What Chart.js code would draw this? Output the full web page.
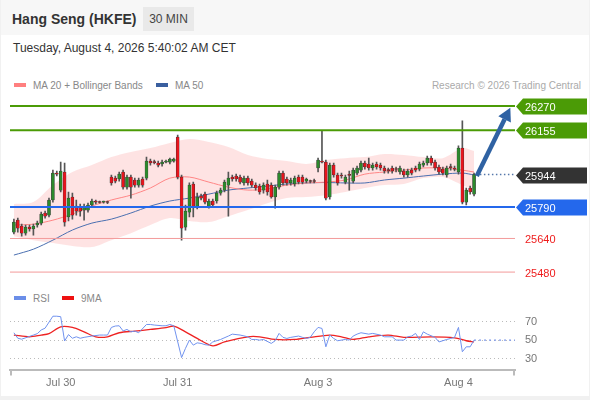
<!DOCTYPE html>
<html>
<head>
<meta charset="utf-8">
<script src="https://cdn.jsdelivr.net/npm/chart.js@4.4.1/dist/chart.umd.min.js"></script>
<style>
  body { margin: 0; width: 590px; height: 400px; overflow: hidden; position: relative;
         background: #f1f1f1; font-family: "Liberation Sans", Arial, sans-serif; }
  #panel { position: absolute; left: 1px; top: 35px; width: 588px; height: 361px; background: #fff; }
  #head { position: absolute; left: 1px; top: 0; width: 588px; height: 35px; background: #f7f7f7; }
  #title { position: absolute; left: 12px; top: 10px; font-size: 14px; font-weight: bold; color: #333; line-height: 18px; }
  #badge { position: absolute; left: 143px; top: 7px; width: 51px; height: 24px; line-height: 24px; text-align: center;
           background: #e9e9e9; color: #444; font-size: 12px; }
  #date { position: absolute; left: 13px; top: 40px; font-size: 12px; color: #333; line-height: 16px; }
  .leg { position: absolute; font-size: 10px; color: #888; line-height: 14px; white-space: nowrap; }
  .sw { display: inline-block; width: 12px; height: 4px; margin-right: 7px; vertical-align: middle; position: relative; top: -1px; }
  #research { position: absolute; right: 9px; top: 79px; font-size: 10px; color: #aaa; line-height: 14px; }
  canvas { position: absolute; left: 0; }
  #price { top: 90px; }
  #rsi { top: 300px; }
</style>
</head>
<body>
<div id="head"></div>
<div id="panel"></div>
<div id="title">Hang Seng (HKFE)</div>
<div id="badge">30 MIN</div>
<div id="date">Tuesday, August 4, 2026 5:40:02 AM CET</div>
<div class="leg" style="left:14px;top:79px"><span class="sw" style="background:#ff7f7f"></span>MA 20 + Bollinger Bands</div>
<div class="leg" style="left:156px;top:79px"><span class="sw" style="background:#3a5f9f"></span>MA 50</div>
<div id="research">Research © 2026 Trading Central</div>
<div class="leg" style="left:14px;top:292px"><span class="sw" style="background:#6b8ee8"></span>RSI</div>
<div class="leg" style="left:62px;top:292px"><span class="sw" style="background:#ee1111"></span>9MA</div>
<canvas id="price" width="590" height="195"></canvas>
<canvas id="rsi" width="590" height="95"></canvas>
<script>
// 30 min candles, Jul 29 night -> Aug 4 morning
const open = [25670,25727,25699,25665,25694,25685,25704,25713,25761,25751,
  25823,25951,25870,25956,25742,25837,25794,25789,25775,25775,
  25799,25818,25813,25813,25813,25932,25927,25923,25956,25884,
  25932,25918,25894,25923,25927,26008,26003,25999,25994,26003,
  26003,26008,26122,25932,25694,25765,25899,25789,25842,25851,
  25789,25818,25818,25856,25870,25894,25932,25937,25932,25904,
  25927,25913,25894,25889,25870,25899,25894,25837,25884,25951,
  25923,25904,25899,25932,25932,25913,25913,25913,25975,26008,
  26003,25837,25989,25942,25942,25908,25942,25913,25951,25965,
  25999,25994,25975,25994,25989,25975,25965,25975,25970,25956,
  25961,25942,25965,25975,25970,25989,25999,26022,26003,25980,
  25970,25942,25980,25975,25956,26070,25813,25880,25851];
const close = [25718,25689,25665,25694,25685,25699,25713,25756,25746,25823,
  25951,25946,25961,25718,25832,25751,25770,25770,25789,25799,
  25818,25813,25811,25815,25811,25904,25913,25946,25884,25932,
  25884,25894,25918,25894,26008,25999,26001,25989,26003,26008,
  26018,26018,25932,25689,25770,25894,25789,25837,25832,25813,
  25818,25799,25856,25870,25908,25927,25923,25923,25908,25927,
  25904,25894,25880,25861,25894,25861,25837,25884,25951,25904,
  25904,25918,25927,25908,25908,25923,25911,25911,26013,26003,
  25832,25989,25942,25904,25937,25932,25940,25965,25975,25999,
  25980,25975,25989,25980,25975,25961,25963,25961,25968,25975,
  25942,25961,25951,25965,25994,25999,26022,25999,25975,25956,
  25951,25975,25977,25970,26070,25813,25870,25861,25944];
const high = [25732,25737,25708,25704,25704,25708,25723,25765,25770,25832,
  25965,25961,26003,25999,25861,25856,25823,25804,25804,25808,
  25827,25823,25818,25818,25818,25942,25937,25956,25965,25942,
  25942,25927,25927,25932,26027,26018,26013,26008,26013,26013,
  26022,26022,26132,25942,25799,25904,25908,25856,25851,25861,
  25827,25827,25865,25880,25918,25956,25942,25946,25942,25937,
  25937,25923,25904,25899,25904,25918,25904,25894,25961,25961,
  25932,25927,25937,25942,25942,25927,25918,25923,26022,26151,
  26013,25999,25999,25951,25951,25942,25961,25975,25984,26008,
  26008,26022,25999,26003,25999,25984,25975,25984,25980,25984,
  25970,25970,25975,25984,26003,26008,26032,26032,26013,25989,
  25980,25984,25994,25984,26080,26199,25880,25889,25951];
const low = [25661,25670,25651,25656,25675,25656,25694,25704,25737,25742,
  25813,25937,25861,25699,25723,25732,25751,25746,25727,25765,
  25789,25804,25808,25808,25806,25894,25904,25913,25875,25875,
  25832,25884,25884,25884,25918,25989,25994,25980,25984,25999,
  25994,26003,25923,25632,25680,25742,25742,25780,25823,25804,
  25784,25789,25808,25846,25861,25746,25913,25913,25899,25894,
  25894,25884,25870,25851,25856,25846,25832,25784,25875,25894,
  25894,25894,25889,25899,25899,25904,25904,25904,25956,25999,
  25823,25827,25932,25894,25927,25899,25870,25904,25942,25956,
  25970,25965,25965,25970,25965,25951,25951,25951,25956,25946,
  25932,25932,25942,25956,25961,25980,25989,25989,25965,25946,
  25942,25932,25965,25961,25946,25804,25799,25851,25842];

// moving averages and bands, read every 5 bars
const bandIdx = [0,5,10,15,20,25,30,35,40,45,50,55,60,65,70,75,80,85,90,95,100,105,110,115,118];
const ma20 = [25704,25708,25727,25756,25794,25823,25846,25880,25927,25932,25908,25884,25870,
  25875,25894,25904,25908,25918,25946,25956,25965,25975,25975,25965,25956];
const bbUpper = [25804,25813,25894,25956,25989,26027,26051,26070,26094,26113,26099,26075,26037,
  26018,26008,25994,26013,26022,26027,26042,26037,26027,26022,26070,26056];
const bbLower = [25651,25632,25618,25604,25599,25632,25665,25704,25737,25723,25718,25746,25775,
  25808,25832,25837,25846,25861,25880,25894,25899,25927,25932,25894,25870];
const ma50 = [25561,25589,25632,25680,25713,25732,25761,25794,25818,25832,25851,25870,25880,
  25889,25899,25904,25906,25904,25904,25918,25927,25937,25946,25951,25942];

// key levels
const levels = [26270, 26155, 25944, 25790, 25640, 25480];
const levelColors = ['#4b9b06', '#4b9b06', null, '#2468ec', '#f39a9a', '#f39a9a'];
const levelBoxes = ['#4b9b06', '#4b9b06', '#333333', '#2468ec', null, null];
const lastIdx = [119.5, 128.5];
const arrowIdx = [118.7, 127.3];
const arrowVal = [25937, 26262];

// RSI panel
const rsiIdx = [0,1,2,4,5,6,7,8,10,11,12,13,14,15,16,17,18,20,22,23,24,25,26,27,28,29,30,31,32,34,35,36,
  38,39,40,41,43,44,45,46,47,48,49,50,51,53,55,56,58,60,61,62,63,64,66,67,68,69,70,71,73,74,75,76,77,78,
  79,80,81,82,83,85,86,87,88,89,91,92,94,95,97,98,100,101,102,103,104,105,106,108,109,111,112,113,114,
  115,116,117,118];
const rsiVal = [58,52,51,54,55.5,57,61,63,76,76,75.5,49,56,52,53.6,52,53,54.4,55.5,55.5,55.5,63.8,65.3,
  65.6,60,61.6,59,59.8,58,67,67,66.4,65.6,65.6,67,65.6,31,41,50,44.5,47,46.4,45,44.5,48,50.7,54.4,56.5,
  55.5,53.6,50.7,50.7,50,50.7,46.4,49.3,57.3,53,51.8,53,54.4,53,51.8,53,59,63.8,62.7,42.7,55.5,51.8,49.3,
  50.7,50,54.4,56.5,58,56.5,57.3,55.5,53.6,53.6,50,50,53.6,54.4,57.3,50.7,59,56.5,53,48,50.7,51.8,53,63.8,
  37.3,42.7,42.7,50];
const rsiMaIdx = [0,4,7,9,12,15,18,21,24,27,31,35,39,41,44,47,51,54,60,63,67,72,76,81,84,87,91,96,100,107,113,116,118];
const rsiMaVal = [55.5,53.6,55.5,57,64.5,63.8,59,53.6,53.6,58,59.8,61.6,63.5,65.3,59,51.8,43.8,48,53.6,
  53.6,50.7,50.7,53,55.5,53.6,50.7,53.6,55.5,53,53.6,52.5,49.3,48];
const rsiTicks = [30, 50, 70];
const dateIdx = [12, 42, 78, 114];
const dateLabels = ['Jul 30', 'Jul 31', 'Aug 3', 'Aug 4'];

Chart.defaults.font.family = '"Liberation Sans", Arial, sans-serif';

const pts = (xs, ys) => xs.map((x, i) => ({ x: x, y: ys[i] }));
const bars = open.map((o, i) => i);
const candleColor = ctx => {
  const r = ctx.raw;
  if (!r) return '#2c8a2c';
  return r.y[1] >= r.y[0] ? '#2c8a2c' : '#e8141c';
};

const levelSets = levels.map((v, i) => ({
  type: 'line',
  data: i === 2 ? [{ x: lastIdx[0], y: v }, { x: lastIdx[1], y: v }] : [{ x: -1, y: v }, { x: 128.5, y: v }],
  borderColor: i === 2 ? '#5577aa' : levelColors[i],
  borderWidth: i === 2 ? 1.5 : (i >= 4 ? 1 : 2),
  borderDash: i === 2 ? [1.5, 2.5] : [],
  pointRadius: 0,
  order: 1
}));

// draws the target arrow and the price boxes on the right
const levelPlugin = {
  id: 'levels',
  afterDatasetsDraw(chart) {
    const { ctx, chartArea, scales: { x, y } } = chart;
    ctx.save();
    const x0 = x.getPixelForValue(arrowIdx[0]), y0 = y.getPixelForValue(arrowVal[0]);
    const x1 = x.getPixelForValue(arrowIdx[1]), y1 = y.getPixelForValue(arrowVal[1]);
    const ang = Math.atan2(y1 - y0, x1 - x0);
    const bx = x1 - 13 * Math.cos(ang), by = y1 - 13 * Math.sin(ang);
    ctx.strokeStyle = '#2f62a3';
    ctx.fillStyle = '#2f62a3';
    ctx.lineWidth = 4.5;
    ctx.beginPath(); ctx.moveTo(x0, y0); ctx.lineTo(bx, by); ctx.stroke();
    ctx.beginPath();
    ctx.moveTo(x1, y1);
    ctx.lineTo(bx + 7 * Math.sin(ang), by - 7 * Math.cos(ang));
    ctx.lineTo(bx - 7 * Math.sin(ang), by + 7 * Math.cos(ang));
    ctx.closePath(); ctx.fill();

    ctx.font = '11px "Liberation Sans", Arial, sans-serif';
    ctx.textBaseline = 'middle';
    const left = chartArea.right + 1;
    levels.forEach((v, i) => {
      const py = Math.round(y.getPixelForValue(v)) + 0.5;
      if (levelBoxes[i]) {
        ctx.fillStyle = levelBoxes[i];
        ctx.beginPath();
        ctx.moveTo(left, py);
        ctx.lineTo(left + 7, py - 8);
        ctx.lineTo(587, py - 8);
        ctx.lineTo(587, py + 8);
        ctx.lineTo(left + 7, py + 8);
        ctx.closePath(); ctx.fill();
        ctx.fillStyle = '#fff';
      } else {
        ctx.fillStyle = '#ee1c1c';
      }
      ctx.fillText(String(v), left + 9, py + 1);
    });
    ctx.restore();
  }
};

new Chart(document.getElementById('price'), {
  type: 'bar',
  data: {
    datasets: [
      { type: 'line', data: pts(bandIdx, bbUpper), borderWidth: 0, pointRadius: 0, tension: 0.3,
        fill: '+1', backgroundColor: 'rgba(250,70,70,0.15)', order: 10 },
      { type: 'line', data: pts(bandIdx, bbLower), borderWidth: 0, pointRadius: 0, tension: 0.3,
        fill: false, order: 10 },
      { type: 'line', data: pts(bandIdx, ma50), borderColor: '#4a6fb0', borderWidth: 1, pointRadius: 0,
        tension: 0.3, order: 9 },
      { type: 'line', data: pts(bandIdx, ma20), borderColor: '#ff8585', borderWidth: 1, pointRadius: 0,
        tension: 0.3, order: 8 },
      { type: 'bar', data: bars.map(i => ({ x: i, y: [low[i], high[i]] })), backgroundColor: '#555',
        barThickness: 1, grouped: false, order: 4 },
      { type: 'bar', data: bars.map(i => ({ x: i, y: [open[i], close[i]] })), backgroundColor: candleColor,
        borderColor: '#333', borderWidth: 0.5, borderSkipped: false, barThickness: 3, minBarLength: 1,
        grouped: false, order: 3 },
      ...levelSets
    ]
  },
  options: {
    responsive: false,
    animation: false,
    layout: { padding: { left: 10, right: 75, top: 5.5, bottom: 4.5 } },
    scales: {
      x: { type: 'linear', min: -1, max: 128.5, offset: false, display: false },
      y: { min: 25440, max: 26320, display: false }
    },
    plugins: { legend: { display: false }, tooltip: { enabled: false } }
  },
  plugins: [levelPlugin]
});

// small end ticks on the bottom axis
const axisEnds = {
  id: 'axisEnds',
  afterDraw(chart) {
    const { ctx, chartArea } = chart;
    ctx.save();
    ctx.strokeStyle = '#bbb';
    ctx.lineWidth = 2;
    [chartArea.left + 1, chartArea.right - 1].forEach(px => {
      ctx.beginPath(); ctx.moveTo(px, chartArea.bottom); ctx.lineTo(px, chartArea.bottom + 6); ctx.stroke();
    });
    ctx.restore();
  }
};

new Chart(document.getElementById('rsi'), {
  type: 'line',
  data: {
    datasets: [
      { data: pts(rsiIdx, rsiVal), borderColor: '#7092ee', borderWidth: 1, pointRadius: 0 },
      { data: pts(rsiMaIdx, rsiMaVal), borderColor: '#ee2222', borderWidth: 1.3, pointRadius: 0, tension: 0.3 },
      { data: [{ x: 118, y: rsiVal[rsiVal.length - 1] }, { x: 128.5, y: rsiVal[rsiVal.length - 1] }],
        borderColor: '#7c98ea', borderWidth: 1.2, borderDash: [2, 3], pointRadius: 0 }
    ]
  },
  options: {
    responsive: false,
    animation: false,
    layout: { padding: { left: 10, right: 0, top: 10.7, bottom: 0 } },
    scales: {
      x: {
        type: 'linear', min: -1, max: 128.5, offset: false,
        grid: { display: false, drawTicks: false },
        border: { display: true, color: '#bbb', width: 2 },
        ticks: { autoSkip: false, maxRotation: 0, padding: 7, color: '#777', font: { size: 11 },
                 callback: (v, i) => dateLabels[i] },
        afterBuildTicks: s => { s.ticks = dateIdx.map(v => ({ value: v })); },
        afterFit: s => { s.height = 25.5; s.paddingLeft = 0; s.paddingRight = 0; }
      },
      y: {
        position: 'right', min: 18, max: 82,
        grid: { color: '#bbb', drawTicks: false },
        border: { display: false, dash: [1, 3] },
        ticks: { padding: 10, color: '#777', font: { size: 11 } },
        afterBuildTicks: s => { s.ticks = rsiTicks.map(v => ({ value: v })); },
        afterFit: s => { s.width = 75; s.paddingTop = 0; s.paddingBottom = 0; }
      }
    },
    plugins: { legend: { display: false }, tooltip: { enabled: false } }
  },
  plugins: [axisEnds]
});
</script>
</body>
</html>
